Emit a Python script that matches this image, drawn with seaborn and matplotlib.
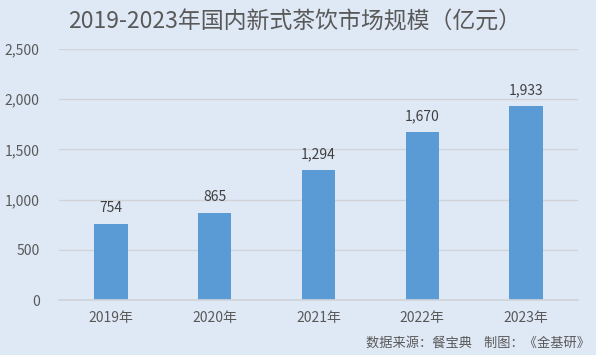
import matplotlib
matplotlib.use("Agg")
import matplotlib.pyplot as plt
import seaborn as sns
import pandas as pd

years = ["2019年", "2020年", "2021年", "2022年", "2023年"]
market_size = [754, 865, 1294, 1670, 1933]
y_ticks = [0, 500, 1000, 1500, 2000, 2500]

title = "2019-2023年国内新式茶饮市场规模（亿元）"
source = "数据来源：餐宝典    制图：《金基研》"

BG = "#dfe9f5"
BAR = "#5b9bd5"
TXT = "#595959"

sns.set_theme(style="white")
plt.rcParams["font.family"] = ["Noto Sans CJK SC", "DejaVu Sans"]

df = pd.DataFrame({"year": years, "size": market_size})

fig = plt.figure(figsize=(5.96, 3.55), dpi=100, facecolor=BG)
ax = fig.add_axes([59 / 596, 1 - 300 / 355, 519 / 596, 251 / 355])
ax.set_facecolor(BG)

sns.barplot(data=df, x="year", y="size", color=BAR, width=0.32, saturation=1,
            linewidth=0, edgecolor=BAR, ax=ax)

ax.set_ylim(0, 2500)
ax.set_yticks(y_ticks)
ax.set_yticklabels([f"{v:,}" for v in y_ticks])
ax.set_xlim(-0.5, len(years) - 0.5)
ax.grid(axis="y", color="#d0d4d9", linewidth=1)
ax.set_axisbelow(True)
for s in ["top", "right", "left"]:
    ax.spines[s].set_visible(False)
ax.spines["bottom"].set_color("#d0d4d9")
ax.tick_params(axis="both", length=0, labelsize=10, labelcolor=TXT)
ax.tick_params(axis="y", pad=14)
ax.tick_params(axis="x", pad=8)
ax.set_xlabel("")
ax.set_ylabel("")

for i, v in enumerate(market_size):
    ax.text(i, v + 90, f"{v:,}", ha="center", va="bottom", fontsize=10, color="#404040")

fig.text(295 / 596, 1 - 22 / 355, title, ha="center", va="center", fontsize=16.5,
         color=TXT, fontweight="light")
fig.text(590 / 596, 1 - 343 / 355, source, ha="right", va="center", fontsize=9.5, color=TXT)

fig.savefig("out.png", dpi=100, facecolor=BG)
